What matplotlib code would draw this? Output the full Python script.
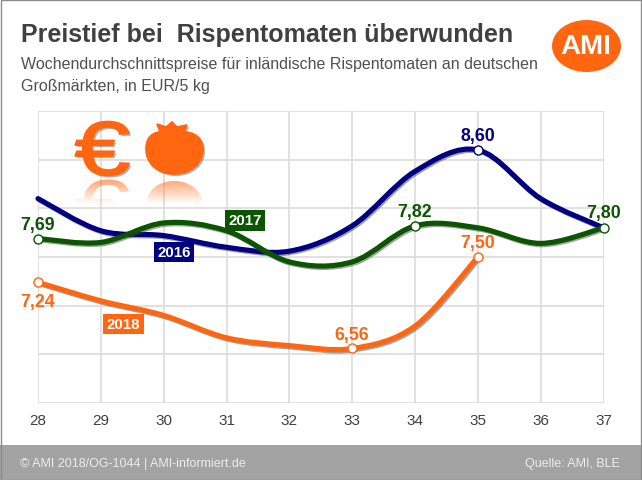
import numpy as np
import matplotlib
matplotlib.use('Agg')
import matplotlib.pyplot as plt
import matplotlib.patheffects as pe
from matplotlib.path import Path
from matplotlib.patches import PathPatch, Ellipse, Rectangle
from matplotlib.textpath import TextPath
from matplotlib.font_manager import FontProperties
from matplotlib.transforms import Affine2D

plt.rcParams['font.family'] = ['Liberation Sans', 'DejaVu Sans']

# data
weeks = [28, 29, 30, 31, 32, 33, 34, 35, 36, 37]
prices_2016 = [8.10, 7.77, 7.72, 7.60, 7.56, 7.82, 8.38, 8.60, 8.10, 7.80]
prices_2017 = [7.69, 7.65, 7.85, 7.77, 7.45, 7.45, 7.82, 7.80, 7.64, 7.80]
prices_2018 = [7.24, 7.05, 6.90, 6.67, 6.59, 6.56, 6.79, 7.50]
y_ticks = [6.0, 6.5, 7.0, 7.5, 8.0, 8.5, 9.0]

NAVY = '#000080'
GREEN = '#0b5500'
ORANGE = '#ff660f'
W, H = 642, 481


def smooth_path(xs, ys):
    # same kind of smoothing as an office chart: bezier through every point
    x = np.array(xs, dtype=float)
    y = np.array(ys, dtype=float)
    verts = [(x[0], y[0])]
    codes = [Path.MOVETO]
    for i in range(len(x) - 1):
        a = max(i - 1, 0)
        b = min(i + 2, len(x) - 1)
        verts.append((x[i] + (x[i + 1] - x[a]) / 6, y[i] + (y[i + 1] - y[a]) / 6))
        verts.append((x[i + 1] - (x[b] - x[i]) / 6, y[i + 1] - (y[b] - y[i]) / 6))
        verts.append((x[i + 1], y[i + 1]))
        codes += [Path.CURVE4] * 3
    return Path(verts, codes)


fig = plt.figure(figsize=(W / 100, H / 100), dpi=100, facecolor='white')

# 1. Chart
ax = fig.add_axes([38 / W, 1 - 404 / H, (603.5 - 38) / W, (404 - 112) / H])
ax.set_facecolor('none')
ax.set_xlim(28, 37)
ax.set_ylim(6, 9)
ax.set_xticks(weeks)
ax.set_yticks(y_ticks)
ax.set_yticklabels([])
ax.tick_params(length=0, pad=7, labelsize=11, labelcolor='#404040')
ax.grid(True, color='#dcdcdc', lw=1.2)
ax.set_axisbelow(True)
for s in ax.spines.values():
    s.set_visible(False)

shadow = [pe.SimpleLineShadow(offset=(1, -1), shadow_color='#444444', alpha=0.5), pe.Normal()]
series = [(prices_2016, NAVY), (prices_2017, GREEN), (prices_2018, ORANGE)]
for values, color in series:
    patch = PathPatch(smooth_path(weeks[:len(values)], values), fc='none', ec=color, lw=3.7,
                      capstyle='round', clip_on=False, zorder=3)
    patch.set_path_effects(shadow)
    ax.add_patch(patch)

# week, value, text, colour, label offset in pixels
value_labels = [
    (28, prices_2017[0], '7,69', GREEN, 14),
    (28, prices_2018[0], '7,24', ORANGE, -19),
    (33, prices_2018[5], '6,56', ORANGE, 14),
    (34, prices_2017[6], '7,82', GREEN, 14),
    (35, prices_2018[7], '7,50', ORANGE, 14),
    (35, prices_2016[7], '8,60', NAVY, 14),
    (37, prices_2017[9], '7,80', GREEN, 15),
]
for wk, val, txt, color, dy in value_labels:
    ax.plot([wk], [val], 'o', ms=6.5, mfc='white', mec=color, mew=1, clip_on=False, zorder=5)
    ax.annotate(txt, (wk, val), xytext=(0, dy * 0.72), textcoords='offset points', ha='center',
                va='center', color=color, fontsize=12.8, fontweight='bold', zorder=6)

# year tags
year_tags = [(31.3, 7.875, '2017', GREEN), (30.17, 7.55, '2016', NAVY), (29.36, 6.812, '2018', ORANGE)]
for x, y, txt, color in year_tags:
    ax.text(x, y, txt, ha='center', va='center', color='white', fontsize=10.8, fontweight='bold',
            bbox=dict(boxstyle='square,pad=0.22', fc=color, ec='none'), zorder=6)

# 2. Everything else, in pixel coordinates
deco = fig.add_axes([0, 0, 1, 1], zorder=5)
deco.set_xlim(0, W)
deco.set_ylim(H, 0)
deco.axis('off')

deco.add_patch(Rectangle((0, 446), W, 35, fc='#a3a3a3', ec='none'))
deco.add_patch(Rectangle((0.5, 0.5), W - 2, H - 1, fc='none', ec='#8c8c8c', lw=1))

deco.text(21, 35, 'Preistief bei  Rispentomaten überwunden', fontsize=18, fontweight='bold',
          color='#404040', va='center', ha='left')
deco.text(21, 65, 'Wochendurchschnittspreise für inländische Rispentomaten an deutschen', fontsize=11.5,
          color='#505050', va='center', ha='left')
deco.text(21, 86, 'Großmärkten, in EUR/5 kg', fontsize=11.5, color='#505050', va='center', ha='left')
deco.text(20, 464, '© AMI 2018/OG-1044 | AMI-informiert.de', fontsize=9, color='#ececec', va='center', ha='left')
deco.text(620, 464, 'Quelle: AMI, BLE', fontsize=9, color='#ececec', va='center', ha='right')

# logo
deco.add_patch(Ellipse((586.5, 47), 69, 52, fc=ORANGE, ec='none'))
deco.text(586, 47.5, 'AMI', fontsize=20, fontweight='bold', color='white', ha='center', va='center')

# icons
euro = TextPath((0, 0), '€', size=100, prop=FontProperties(family='Liberation Sans'))
bb = euro.get_extents()
euro = euro.transformed(Affine2D().translate(-bb.x0, -bb.y0).scale(54 / bb.width, -54 / bb.height).translate(75, 176.5))

M, C, L, Z = Path.MOVETO, Path.CURVE4, Path.LINETO, Path.CLOSEPOLY
# crown runs the same way round as the body so the overlap stays filled
tomato = Path([(172, 134), (155, 130), (146, 136), (146, 150), (146, 165), (158, 175), (174, 175),
               (190, 175), (203, 165), (203, 150), (203, 136), (190, 130), (172, 134),
               (157, 125), (162, 138), (182, 138), (187, 126), (177, 128), (172, 123), (166, 128), (157, 125)],
              [M, C, C, C, C, C, C, C, C, C, C, C, C, M, L, L, L, L, L, L, Z])

fade = np.zeros((64, 2, 4))
fade[..., :3] = matplotlib.colors.to_rgb(ORANGE)
fade[..., 3] = np.linspace(0.6, 0, 64)[:, None]
for icon, (x0, x1) in [(euro, (74, 129)), (tomato, (146, 203))]:
    p = PathPatch(icon, fc=ORANGE, ec=ORANGE, lw=1.2)
    p.set_path_effects([pe.SimplePatchShadow(offset=(1.5, -1.5), shadow_rgbFace='#666666', alpha=0.5), pe.Normal()])
    deco.add_patch(p)
    # reflection underneath
    mirrored = icon.transformed(Affine2D().scale(1, -1).translate(0, 2 * 178.5))
    im = deco.imshow(fade, extent=(x0, x1, 205, 180), aspect='auto', zorder=2, interpolation='bilinear')
    im.set_clip_path(PathPatch(mirrored, transform=deco.transData))
deco.set_xlim(0, W)
deco.set_ylim(H, 0)

fig.savefig('out.png', dpi=100)
